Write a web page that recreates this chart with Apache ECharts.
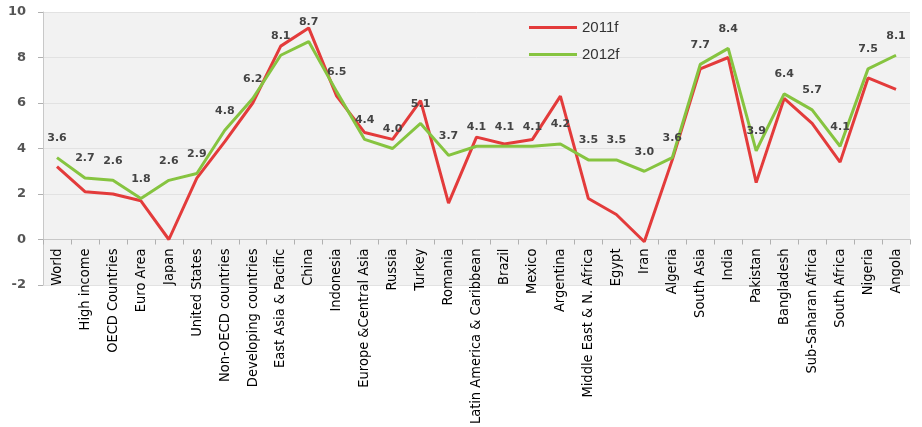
<!DOCTYPE html>
<html>
<head>
<meta charset="utf-8">
<script src="https://cdn.jsdelivr.net/npm/echarts@6/dist/echarts.min.js"></script>
<style>html,body{margin:0;padding:0;background:#fff;}#c{width:922px;height:427px;}</style>
</head>
<body>
<div id="c"></div>
<script>
const categories = ["World","High income","OECD Countries","Euro Area","Japan","United States","Non-OECD countries","Developing countries","East Asia & Pacific","China","Indonesia","Europe &Central Asia","Russia","Turkey","Romania","Latin America & Caribbean","Brazil","Mexico","Argentina","Middle East & N. Africa","Egypt","Iran","Algeria","South Asia","India","Pakistan","Bangladesh","Sub-Saharan Africa","South Africa","Nigeria","Angola"];
const values2011 = [3.2,2.1,2.0,1.7,0.0,2.7,4.3,6.0,8.5,9.3,6.3,4.7,4.4,6.1,1.6,4.5,4.2,4.4,6.3,1.8,1.1,-0.1,3.5,7.5,8.0,2.5,6.2,5.1,3.4,7.1,6.6];
const values2012 = [3.6,2.7,2.6,1.8,2.6,2.9,4.8,6.2,8.1,8.7,6.5,4.4,4.0,5.1,3.7,4.1,4.1,4.1,4.2,3.5,3.5,3.0,3.6,7.7,8.4,3.9,6.4,5.7,4.1,7.5,8.1];
const yTicks = {min:-2, max:10, interval:2};

const chart = echarts.init(document.getElementById('c'), null, {renderer:'canvas'});
chart.setOption({
  animation:false,
  backgroundColor:'#ffffff',
  grid:{left:43, right:12, top:12, bottom:142, show:true, backgroundColor:'#f2f2f2', borderWidth:0, containLabel:false, outerBoundsMode:'none'},
  legend:{
    orient:'vertical', left:524, top:15, itemWidth:48, itemHeight:12, itemGap:12,
    icon:'path://M0,5 L48,5 L48,8 L0,8 Z',
    textStyle:{fontFamily:'Liberation Sans', fontSize:15, color:'#333'},
    data:['2011f','2012f']
  },
  xAxis:{
    type:'category', data:categories, boundaryGap:true, offset:-45.5,
    axisLine:{onZero:false, lineStyle:{color:'#c8c8c8', width:1}},
    axisTick:{show:true, alignWithLabel:false, length:5, lineStyle:{color:'#b0b0b0'}},
    axisLabel:{rotate:90, interval:0, margin:9, fontFamily:'"DejaVu Sans Condensed",sans-serif', fontSize:14.5, color:'#000'},
    splitLine:{show:false}
  },
  yAxis:{
    type:'value', min:yTicks.min, max:yTicks.max, interval:yTicks.interval,
    axisLine:{show:true, lineStyle:{color:'#c8c8c8'}},
    axisTick:{show:true, length:5, lineStyle:{color:'#b0b0b0'}},
    axisLabel:{fontFamily:'DejaVu Sans', fontSize:13, fontWeight:'bold', color:'#555', margin:17},
    splitLine:{show:true, lineStyle:{color:'#e2e2e2', width:1}}
  },
  series:[
    {name:'2011f', type:'line', data:values2011, symbol:'none', lineStyle:{color:'#e33b3b', width:3}, itemStyle:{color:'#e33b3b'}},
    {name:'2012f', type:'line', data:values2012, symbol:'circle', symbolSize:0.01, showSymbol:true,
     lineStyle:{color:'#86c440', width:3}, itemStyle:{color:'#86c440'},
     label:{show:true, position:'top', distance:14, fontFamily:'DejaVu Sans', fontSize:11, fontWeight:'bold', color:'#444',
            formatter:p=>p.value.toFixed(1)}}
  ]
});
</script>
</body>
</html>
